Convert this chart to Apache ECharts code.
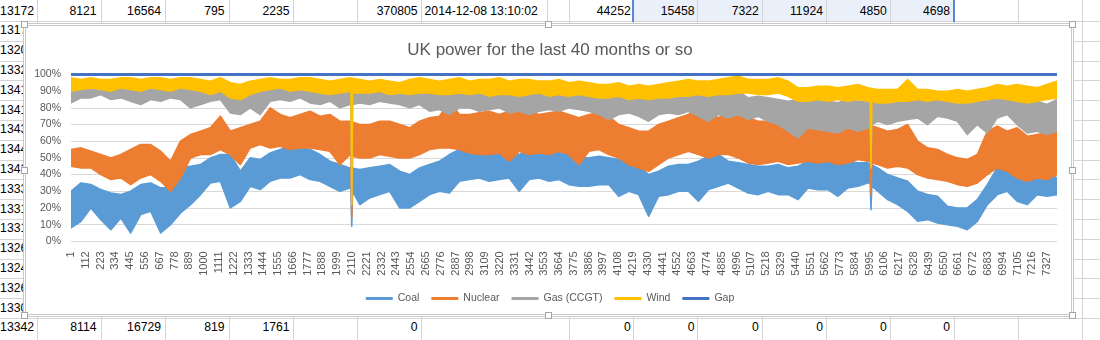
<!DOCTYPE html>
<html>
<head>
<meta charset="utf-8">
<script src="https://cdn.jsdelivr.net/npm/echarts/dist/echarts.min.js"></script>
<style>
  html, body { margin:0; padding:0; width:1100px; height:340px; overflow:hidden; background:#fff; }
  #sheet { position:absolute; left:0; top:0; width:1100px; height:340px; z-index:1; font-family:'Liberation Sans', Arial, sans-serif; }
  .hl { position:absolute; left:0; width:1100px; height:1px; background:#D4D4D4; }
  .vl { position:absolute; width:1px; background:#D4D4D4; }
  .cell { position:absolute; width:200px; text-align:right; font-size:12.2px; color:#000; line-height:14px; white-space:nowrap; }
  .cellL { position:absolute; text-align:left; font-size:12.2px; color:#000; line-height:14px; white-space:nowrap; }
  #frame { position:absolute; left:23px; top:23px; width:1051px; height:294px; box-sizing:border-box; border:3px double #C9C9C9; background:#fff; z-index:2; }
  .handle { position:absolute; width:7px; height:7px; box-sizing:border-box; border:1px solid #A6A6A6; background:#fff; z-index:4; }
  #chart { position:absolute; left:0; top:0; width:1100px; height:340px; z-index:3; }
</style>
</head>
<body>
<div id="sheet"></div>
<div id="frame"></div>
<div id="chart"></div>
<script>
// ---------------- chart data (cumulative percent) ----------------
// Each series is ~7400 half-hourly points; the picture shows them as a dense band,
// so every series is kept as 100 readings of the band's low and high edge.
const seriesNames = ['Coal', 'Nuclear', 'Gas (CCGT)', 'Wind', 'Gap'];
const seriesColors = ['#5B9BD5', '#ED7D31', '#A5A5A5', '#FFC000', '#4472C4'];
const categoryCount = 7401;
const labelEvery = 111;

const coalLow = [
  8,12, 20,13, 7,14, 5,16, 18,5, 10,17, 22,28, 35,36, 20,24, 33,31,
  36,38, 38,40, 37,36, 33,30, 32,22, 26,28, 30,20, 20,24, 28,30, 29,36,
  37,38, 36,37, 38,30, 37,38, 36,37, 34,33, 33,34, 34,27, 30,28, 15,27,
  28,30, 30,24, 31,33, 35,32, 29,28, 30,28, 28,25, 32,31, 31,27, 32,33,
  35,30, 25,22, 18,12, 13,11, 10,9, 7,12, 22,28, 30,24, 22,28, 27,28
];
const coalHigh = [
  30,35, 34,31, 29,28, 30,34, 35,32, 32,44, 45,46, 50,52, 52,42, 50,49,
  53,55, 57,56, 55,52, 48,46, 44,43, 44,45, 46,42, 40,44, 46,48, 52,55,
  55,54, 53,55, 54,52, 56,55, 54,53, 52,50, 50,51, 50,49, 47,45, 40,42,
  45,46, 46,48, 51,52, 48,47, 46,45, 45,46, 44,45, 48,47, 47,46, 48,47,
  47,44, 40,38, 36,30, 28,27, 21,20, 20,25, 34,44, 44,42, 40,42, 41,38
];
const nuclearLow = [
  45,44, 44,40, 37,38, 34,38, 40,36, 30,38, 50,52, 52,55, 52,46, 56,58,
  56,57, 55,56, 56,55, 54,46, 52,50, 50,52, 51,50, 50,52, 55,56, 56,55,
  53,52, 52,53, 48,54, 52,53, 52,54, 52,46, 54,55, 52,50, 46,44, 42,46,
  50,52, 54,52, 50,52, 52,50, 47,46, 47,48, 46,47, 48,47, 48,46, 47,49,
  48,46, 44,45, 44,40, 38,37, 36,34, 33,35, 40,44, 42,38, 36,38, 37,40
];
const nuclearHigh = [
  55,56, 54,52, 50,52, 55,58, 58,54, 48,60, 64,66, 68,75, 66,68, 70,72,
  80,76, 74,76, 78,75, 76,72, 72,70, 70,72, 72,70, 68,72, 74,75, 84,76,
  76,77, 78,76, 78,80, 78,76, 77,78, 76,74, 76,77, 75,70, 68,66, 66,70,
  72,74, 76,82, 78,74, 78,76, 74,72, 72,73, 72,74, 72,70, 73,72, 70,72,
  70,68, 66,67, 70,60, 56,55, 52,50, 49,52, 66,69, 66,68, 63,64, 65,66
];
const gasLow = [
  83,86, 86,88, 85,86, 84,82, 85,84, 86,85, 80,82, 84,85, 77,76, 80,76,
  84,85, 84,86, 83,82, 84,80, 82,83, 82,84, 83,82, 80,82, 78,79, 76,80,
  80,78, 79,80, 77,78, 76,78, 79,78, 80,79, 78,76, 73,76, 77,75, 72,76,
  77,76, 78,75, 72,76, 74,76, 73,75, 72,70, 66,62, 68,67, 66,65, 68,66,
  68,72, 70,72, 73,74, 70,75, 74,72, 64,70, 65,74, 76,70, 65,66, 64,66
];
const gasHigh = [
  93,94, 93,94, 94,93, 94,93, 94,93, 94,93, 92,93, 93,94, 90,88, 90,89,
  93,94, 94,93, 93,92, 93,92, 92,93, 92,93, 93,92, 90,91, 90,91, 89,90,
  90,89, 90,91, 89,90, 89,90, 90,89, 90,91, 89,88, 88,89, 88,87, 87,88,
  88,89, 89,88, 87,88, 88,90, 86,87, 86,85, 84,85, 84,85, 84,83, 85,84,
  84,85, 85,84, 85,86, 85,86, 86,85, 84,85, 84,86, 87,85, 83,84, 82,85
];
const windLow = [
  90,91, 92,91, 90,92, 91,90, 92,91, 90,92, 91,90, 88,90, 86,85, 88,90,
  91,92, 90,91, 90,89, 88,89, 90,89, 89,90, 88,89, 88,89, 89,88, 88,89,
  88,89, 87,88, 88,87, 88,89, 87,88, 87,88, 87,86, 86,87, 85,86, 85,86,
  86,87, 87,88, 87,88, 88,89, 89,88, 88,89, 87,84, 84,85, 84,85, 84,85,
  84,83, 83,84, 84,85, 84,85, 84,83, 83,84, 85,86, 85,84, 83,84, 85,86
];
const windHigh = [
  98,97, 98,97, 97,98, 98,97, 98,98, 97,98, 98,97, 96,98, 95,94, 96,97,
  98,97, 97,98, 98,97, 96,97, 98,97, 96,97, 96,95, 97,98, 97,96, 97,98,
  96,97, 97,98, 96,97, 97,96, 96,97, 95,96, 95,94, 94,95, 93,94, 93,94,
  95,96, 97,96, 96,97, 98,99, 97,97, 97,98, 96,92, 92,93, 93,92, 93,94,
  92,91, 91,91, 97,91, 91,90, 90,91, 90,91, 92,94, 93,94, 93,92, 94,96
];
const gapValues = [100, 100];
const gapCategories = [0, 7400];

// the two short drop-outs: category index and value (shoulder / bottom / shoulder)
const dropCategories = [2101, 2107, 2113, 5998, 6004, 6010];
const coalDrops    = [31, 9, 30, 35, 19, 33];
const nuclearDrops = [52, 14, 51, 48, 28, 47];
const gasDrops     = [82, 22, 82, 68, 44, 70];
const windDrops    = [90, 22, 89, 84, 44, 84];

const yTicks = { min: 0, max: 100, interval: 10 };

// ---------------- build ----------------
const categories = [];
for (let i = 0; i < categoryCount; i++) categories.push(String(i + 1));
const lastCat = categoryCount - 1;
const catOf = (j, n) => Math.round(j * lastCat / (n - 1));

function bandSeries(name, color, low, high, drops) {
  const upper = high.map((v, j) => [catOf(j, high.length), v]);
  const lower = low.map((v, j) => [catOf(j, low.length), v]);
  if (drops) dropCategories.forEach((c, k) => lower.push([c, drops[k]]));
  lower.sort((a, b) => b[0] - a[0]);
  const outline = upper.concat(lower);
  return {
    name, type: 'custom', coordinateSystem: 'cartesian2d',
    data: [[0, high[0]]],
    encode: { x: 0, y: 1 },
    color, itemStyle: { color },
    clip: true, animation: false,
    renderItem: (params, api) => ({
      type: 'polygon',
      shape: { points: outline.map(p => api.coord(p)) },
      style: { fill: color, stroke: color, lineWidth: 1.6, lineJoin: 'round' }
    })
  };
}

const chart = echarts.init(document.getElementById('chart'), null, { renderer: 'canvas' });
const axisFont = "'Liberation Sans', Arial, sans-serif";

chart.setOption({
  backgroundColor: 'transparent',
  animation: false,
  title: {
    text: 'UK power for the last 40 months or so',
    left: 'center', top: 37,
    textStyle: { fontFamily: axisFont, fontSize: 17, fontWeight: 'normal', color: '#595959' }
  },
  legend: {
    data: seriesNames,
    bottom: 31,
    left: 'center',
    icon: 'rect',
    itemWidth: 27, itemHeight: 3, itemGap: 12,
    textStyle: { fontFamily: axisFont, fontSize: 10.5, color: '#595959' }
  },
  grid: { left: 71, right: 43, top: 74.5, bottom: 98.7, containLabel: false },
  xAxis: {
    type: 'category', data: categories, boundaryGap: false,
    axisLine: { lineStyle: { color: '#D9D9D9', width: 1 } },
    axisTick: { show: false },
    axisLabel: { interval: labelEvery - 1, rotate: 90, margin: 10, fontFamily: axisFont, fontSize: 11, color: '#595959' },
    splitLine: { show: false }
  },
  yAxis: {
    type: 'value', min: yTicks.min, max: yTicks.max, interval: yTicks.interval,
    axisLine: { show: false }, axisTick: { show: false },
    axisLabel: { formatter: '{value}%', margin: 10, fontFamily: axisFont, fontSize: 10.5, color: '#595959' },
    splitLine: { lineStyle: { color: '#D9D9D9', width: 1 } }
  },
  series: [
    bandSeries('Coal', seriesColors[0], coalLow, coalHigh, coalDrops),
    bandSeries('Nuclear', seriesColors[1], nuclearLow, nuclearHigh, nuclearDrops),
    bandSeries('Gas (CCGT)', seriesColors[2], gasLow, gasHigh, gasDrops),
    bandSeries('Wind', seriesColors[3], windLow, windHigh, windDrops),
    {
      name: 'Gap', type: 'line', symbol: 'none', animation: false, clip: false, z: 3,
      data: gapCategories.map((c, i) => [c, gapValues[i]]),
      lineStyle: { width: 3, color: seriesColors[4] }, itemStyle: { color: seriesColors[4] }
    }
  ]
});

// ---------------- spreadsheet surroundings ----------------
const rowLines = [21, 40.8, 60.6, 80.4, 100.2, 120, 139.8, 159.6, 179.4, 199.2, 219, 238.8, 258.6, 278.4, 298.2, 318];
const colLines = [36.5, 100.7, 164.9, 228.8, 292.6, 356.8, 421.1, 569.3, 632.8, 697.4, 761.6, 825.8, 889.6, 953.5, 1018.4, 1081.6];
const topRowText = ['13172', '8121', '16564', '795', '2235', '370805', '44252', '15458', '7322', '11924', '4850', '4698'];
const topRowEnds = [34, 96.5, 161, 224.6, 289.5, 417.5, 630.7, 694.6, 758.8, 823, 886.8, 950];
const topDate = '2014-12-08 13:10:02';
const bottomRowText = ['13342', '8114', '16729', '819', '1761', '0', '0', '0', '0', '0', '0', '0'];
const bottomRowEnds = [34, 96.5, 161, 224.6, 289.5, 417.5, 630.7, 694.6, 758.8, 823, 886.8, 950];
const leftColumnText = ['13178', '13203', '13325', '13412', '13418', '13436', '13441', '13427', '13335', '13316', '13314', '13260', '13245', '13262', '13305'];

const sheet = document.getElementById('sheet');
function add(cls, style, text) {
  const d = document.createElement('div');
  d.className = cls;
  Object.assign(d.style, style);
  if (text !== undefined) d.textContent = text;
  sheet.appendChild(d);
  return d;
}
add('', { position: 'absolute', left: '633px', top: '0px', width: '321px', height: '21px', background: '#EAF0FA' });
rowLines.forEach(y => add('hl', { top: y + 'px' }));
colLines.forEach(x => add('vl', { left: x + 'px', top: '0px', height: '340px' }));
add('vl', { left: '546.7px', top: '0px', height: '21px' });
add('', { position: 'absolute', left: '632px', top: '0px', width: '2px', height: '22px', background: '#5B87D6' });
add('', { position: 'absolute', left: '952.5px', top: '0px', width: '2px', height: '22px', background: '#5B87D6' });

const rowCenter = k => 10.6 + 19.8 * k;
topRowText.forEach((t, i) => add('cell', { left: (topRowEnds[i] - 200) + 'px', top: (rowCenter(0) - 7) + 'px' }, t));
add('cellL', { left: '424.6px', top: (rowCenter(0) - 7) + 'px' }, topDate);
bottomRowText.forEach((t, i) => add('cell', { left: (bottomRowEnds[i] - 200) + 'px', top: (rowCenter(16) - 7) + 'px' }, t));
leftColumnText.forEach((t, i) => add('cell', { left: (34 - 200) + 'px', top: (rowCenter(i + 1) - 7) + 'px' }, t));

const hx = [24.5, 548, 1072.5], hy = [24.5, 170, 315.5];
hy.forEach((y, r) => hx.forEach((x, c) => {
  if (r === 1 && c === 1) return;
  const h = document.createElement('div');
  h.className = 'handle';
  h.style.left = (x - 3.5) + 'px';
  h.style.top = (y - 3.5) + 'px';
  document.body.appendChild(h);
}));
</script>
</body>
</html>
